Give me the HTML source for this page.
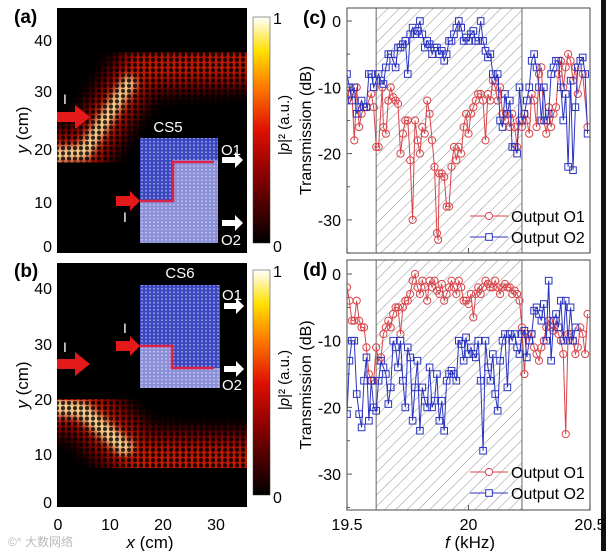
<!DOCTYPE html>
<html><head><meta charset="utf-8">
<style>
body{margin:0;background:#fff;}
svg{display:block;font-family:"Liberation Sans","Noto Sans CJK SC",sans-serif;}
</style></head>
<body>
<svg id="fig" width="606" height="551" viewBox="0 0 606 551" xmlns="http://www.w3.org/2000/svg">
<defs>
  <linearGradient id="hot" x1="0" y1="1" x2="0" y2="0">
    <stop offset="0" stop-color="#000"/>
    <stop offset="0.3" stop-color="#8a0000"/>
    <stop offset="0.5" stop-color="#e01000"/>
    <stop offset="0.7" stop-color="#ff8000"/>
    <stop offset="0.85" stop-color="#ffe000"/>
    <stop offset="1" stop-color="#fff"/>
  </linearGradient>
  <pattern id="hatch" width="8" height="8" patternUnits="userSpaceOnUse" patternTransform="rotate(45)">
    <line x1="0" y1="0" x2="0" y2="8" stroke="#777" stroke-width="0.8"/>
  </pattern>
  <pattern id="lattice" width="6" height="5.2" patternUnits="userSpaceOnUse">
    <circle cx="3" cy="2.6" r="2.1" fill="#000" opacity="0.8"/>
  </pattern>
  <pattern id="insetdots" width="4" height="3.5" patternUnits="userSpaceOnUse">
    <circle cx="2" cy="1.7" r="1" fill="#fff" opacity="0.45"/>
  </pattern>
  <filter id="blur6"><feGaussianBlur stdDeviation="7"/></filter>
  <filter id="blur3"><feGaussianBlur stdDeviation="4"/></filter>
  <clipPath id="clipA"><rect x="57" y="8" width="190" height="245"/></clipPath>
  <clipPath id="clipB"><rect x="57" y="263" width="190" height="244"/></clipPath>
  <clipPath id="clipC"><rect x="347" y="8" width="243" height="245"/></clipPath>
  <clipPath id="clipD"><rect x="347" y="260" width="243" height="250"/></clipPath>
</defs>

<rect x="601" y="0" width="5" height="551" fill="#111"/>

<!-- Panel A -->
<g>
  <rect x="57" y="8" width="190" height="245" fill="#000"/>
  <g clip-path="url(#clipA)">
    <polyline points="40,153 84,153 140,68 260,62" fill="none" stroke="#700000" stroke-width="56" filter="url(#blur6)"/>
    <polyline points="40,153 84,153 140,68 260,62" fill="none" stroke="#d02000" stroke-width="28" filter="url(#blur6)" opacity="0.8"/>
    <polyline points="50,155 84,152 132,78" fill="none" stroke="#ffe6a0" stroke-width="14" filter="url(#blur3)" opacity="0.9"/>
    <polyline points="150,58 260,58" fill="none" stroke="#ff9050" stroke-width="8" filter="url(#blur3)" opacity="0.6"/>
    <rect x="57" y="8" width="190" height="245" fill="url(#lattice)"/>
  </g>
  <polygon points="57,112 75,112 75,105 90,117 75,129 75,122 57,122" fill="#e41a1a"/>
  <text x="63" y="104" font-size="14" fill="#fff">I</text>
  <g>
    <rect x="140" y="138" width="78" height="105" fill="#8a8fd8"/>
    <rect x="140" y="138" width="78" height="22" fill="#3a46c0"/>
    <rect x="140" y="160" width="33" height="42" fill="#3a46c0"/>
    <rect x="140" y="138" width="78" height="105" fill="url(#insetdots)"/>
    <polyline points="140,201 173,201 173,162 214,162" fill="none" stroke="#d9234a" stroke-width="2.5"/>
    <text x="168" y="132" font-size="15" fill="#fff" text-anchor="middle">CS5</text>
  </g>
  <polygon points="116,196 130,196 130,191 140,201 130,211 130,206 116,206" fill="#e41a1a"/>
  <text x="123" y="222" font-size="14" fill="#fff">I</text>
  <polygon points="222,157 235,157 235,152 243,160 235,168 235,163 222,163" fill="#fff"/>
  <polygon points="222,220 235,220 235,215 243,223 235,231 235,226 222,226" fill="#fff"/>
  <text x="221" y="155" font-size="15" fill="#fff">O1</text>
  <text x="221" y="245" font-size="15" fill="#fff">O2</text>
  <text x="14" y="23" font-size="19" font-weight="bold">(a)</text>
  <g font-size="16" text-anchor="end">
    <text x="52" y="46">40</text><text x="52" y="97">30</text><text x="52" y="155">20</text>
    <text x="52" y="208">10</text><text x="52" y="252">0</text>
  </g>
  <text transform="translate(28,130) rotate(-90)" font-size="17" text-anchor="middle"><tspan font-style="italic">y</tspan> (cm)</text>
  <rect x="253" y="17" width="17" height="226" fill="url(#hot)" stroke="#333" stroke-width="0.5"/>
  <text x="273" y="24" font-size="16">1</text><text x="273" y="252" font-size="16">0</text>
  <text transform="translate(289,125) rotate(-90)" font-size="15" text-anchor="middle">|<tspan font-style="italic">p</tspan>|² (a.u.)</text>
</g>

<!-- Panel B -->
<g>
  <rect x="57" y="263" width="190" height="244" fill="#000"/>
  <g clip-path="url(#clipB)">
    <polyline points="40,405 82,405 140,460 260,462" fill="none" stroke="#700000" stroke-width="66" filter="url(#blur6)"/>
    <polyline points="40,405 82,405 140,460 260,462" fill="none" stroke="#d02000" stroke-width="34" filter="url(#blur6)" opacity="0.8"/>
    <polyline points="45,405 82,410 130,452" fill="none" stroke="#ffe6a0" stroke-width="16" filter="url(#blur3)" opacity="0.9"/>
    <polyline points="140,462 260,462" fill="none" stroke="#ffb060" stroke-width="10" filter="url(#blur3)" opacity="0.7"/>
    <rect x="57" y="263" width="190" height="244" fill="url(#lattice)"/>
  </g>
  <polygon points="57,359 75,359 75,352 90,364 75,376 75,369 57,369" fill="#e41a1a"/>
  <text x="63" y="352" font-size="14" fill="#fff">I</text>
  <g>
    <rect x="140" y="285" width="80" height="103" fill="#3a46c0"/>
    <rect x="140" y="346" width="32" height="42" fill="#8a8fd8"/>
    <rect x="172" y="368" width="48" height="20" fill="#8a8fd8"/>
    <rect x="140" y="285" width="80" height="103" fill="url(#insetdots)"/>
    <polyline points="140,346 172,346 172,368 214,368" fill="none" stroke="#d9234a" stroke-width="2.5"/>
    <text x="180" y="278" font-size="15" fill="#fff" text-anchor="middle">CS6</text>
  </g>
  <polygon points="116,341 130,341 130,336 140,346 130,356 130,351 116,351" fill="#e41a1a"/>
  <text x="123" y="333" font-size="14" fill="#fff">I</text>
  <polygon points="224,303 236,303 236,298 244,306 236,314 236,309 224,309" fill="#fff"/>
  <polygon points="224,366 236,366 236,361 244,369 236,377 236,372 224,372" fill="#fff"/>
  <text x="222" y="300" font-size="15" fill="#fff">O1</text>
  <text x="222" y="390" font-size="15" fill="#fff">O2</text>
  <text x="14" y="277" font-size="19" font-weight="bold">(b)</text>
  <g font-size="16" text-anchor="end">
    <text x="52" y="294">40</text><text x="52" y="350">30</text><text x="52" y="405">20</text>
    <text x="52" y="460">10</text><text x="52" y="508">0</text>
  </g>
  <text transform="translate(28,385) rotate(-90)" font-size="17" text-anchor="middle"><tspan font-style="italic">y</tspan> (cm)</text>
  <g font-size="16" text-anchor="middle">
    <text x="58" y="530">0</text><text x="110" y="530">10</text><text x="163" y="530">20</text><text x="216" y="530">30</text>
  </g>
  <text x="150" y="548" font-size="17" text-anchor="middle"><tspan font-style="italic">x</tspan> (cm)</text>
  <rect x="253" y="270" width="17" height="225" fill="url(#hot)" stroke="#333" stroke-width="0.5"/>
  <text x="273" y="277" font-size="16">1</text><text x="273" y="503" font-size="16">0</text>
  <text transform="translate(289,380) rotate(-90)" font-size="15" text-anchor="middle">|<tspan font-style="italic">p</tspan>|² (a.u.)</text>
  <text x="8" y="546" font-size="12" fill="#bbb">©° 大数网络</text>
</g>

<g id="charts"></g>
</svg>

<script>
// ---- Data (c) ----
const fC1 = [19.50,19.51,19.52,19.53,19.54,19.55,19.56,19.57,19.58,19.60,19.61,19.62,19.63,19.645,19.65,19.66,19.67,19.68,19.69,19.70,19.71,19.72,19.73,19.74,19.75,19.76,19.77,19.78,19.79,19.80,19.81,19.82,19.83,19.84,19.85,19.86,19.87,19.875,19.88,19.89,19.90,19.91,19.92,19.93,19.94,19.95,19.96,19.97,19.98,19.99,20.00,20.01,20.02,20.03,20.04,20.05,20.06,20.07,20.08,20.09,20.10,20.11,20.12,20.13,20.14,20.15,20.16,20.17,20.18,20.19,20.20,20.21,20.22,20.23,20.24,20.25,20.26,20.27,20.28,20.29,20.30,20.31,20.32,20.33,20.34,20.35,20.36,20.37,20.38,20.39,20.40,20.41,20.42,20.43,20.44,20.45,20.47,20.49];
const vC1 = [-12,-10,-11,-18,-10,-16,-14,-13,-13,-11,-13,-19,-19,-10,-16,-17,-12,-10,-11.5,-12,-12.5,-20,-17,-15,-15,-21,-30,-15,-18,-20,-16,-17,-12,-14,-18,-22,-32,-33,-23,-23,-23.5,-28,-28,-22,-19,-21,-19,-20,-16,-14,-17,-14,-13,-12,-11,-11,-12,-18,-11,-12,-9,-10,-12,-10,-14,-15,-14,-16,-14,-16,-19,-15,-16,-14,-15,-17,-11,-12,-16,-8,-7,-15,-17,-13,-16,-14,-13,-8,-6,-10,-7,-5,-6,-9,-7,-11,-8,-16];
const fC2 = [19.50,19.51,19.52,19.53,19.54,19.55,19.56,19.57,19.58,19.59,19.60,19.61,19.62,19.63,19.64,19.65,19.66,19.67,19.68,19.69,19.70,19.71,19.72,19.73,19.74,19.75,19.76,19.77,19.78,19.79,19.80,19.81,19.82,19.83,19.84,19.85,19.86,19.87,19.88,19.89,19.90,19.91,19.92,19.93,19.94,19.95,19.96,19.97,19.98,19.99,20.00,20.01,20.02,20.03,20.04,20.05,20.06,20.07,20.08,20.09,20.10,20.11,20.12,20.13,20.14,20.15,20.16,20.17,20.18,20.19,20.20,20.21,20.22,20.23,20.24,20.25,20.26,20.27,20.28,20.29,20.30,20.31,20.32,20.33,20.34,20.35,20.36,20.37,20.38,20.39,20.40,20.41,20.42,20.43,20.44,20.45,20.46,20.47,20.48,20.49];
const vC2 = [-8,-10,-12,-10,-14,-13,-12,-13,-13,-8,-8,-10,-9,-8,-9,-9.5,-7,-5,-5,-6,-7,-4,-4,-3.5,-3,-8,-2,-1,-2,-1.5,0,-2,-4,-3,-3.5,-5,-4,-4,-5,-4.5,-6,-5,-3,-3,-2,-1,0,-1,-3,-2.5,-3,-2,-1.5,-3,-3,0,-3,-4.5,-5.5,-5,-8,-9,-8,-15,-16,-11,-14,-12,-19,-19,-20,-10,-15,-14,-12,-10,-6,-5,-7,-10,-15,-10,-15,-14,-8,-7,-6,-6,-10,-15,-11,-22,-9,-22.5,-13,-7,-6,-5.5,-8,-17];
// ---- Data (d) ----
const fD1 = [19.50,19.51,19.52,19.53,19.54,19.55,19.56,19.57,19.58,19.59,19.60,19.61,19.62,19.63,19.64,19.65,19.66,19.67,19.68,19.69,19.70,19.71,19.72,19.73,19.74,19.75,19.76,19.77,19.78,19.79,19.80,19.81,19.82,19.83,19.84,19.85,19.86,19.87,19.88,19.89,19.90,19.91,19.92,19.93,19.94,19.95,19.96,19.97,19.98,19.99,20.00,20.01,20.02,20.03,20.04,20.05,20.06,20.07,20.08,20.09,20.10,20.11,20.12,20.13,20.14,20.15,20.16,20.17,20.18,20.19,20.20,20.21,20.22,20.23,20.24,20.25,20.26,20.27,20.28,20.29,20.30,20.31,20.32,20.33,20.34,20.35,20.36,20.37,20.38,20.39,20.40,20.41,20.42,20.43,20.44,20.45,20.46,20.47,20.48,20.49];
const vD1 = [-2,-4,-7,-7,-4,-7,-8,-8,-11,-15,-16,-16,-11,-13,-12.5,-9,-8,-7,-8,-6,-5,-5,-9,-5,-4,-4,-3,-1,0,-2,-3,-1,-2,-4,-1,-2,-1,-2.5,-3,-1.5,-4,-3,-2,-1,-2,-3,-1,-2,-4,-4,-4.5,-3,-6.5,-3,-2,-3,-2,-1,-1.5,-2,-2,-1,-2,-3,-2,-1.5,-2,-2,-3,-2.5,-3,-4,-8,-15,-9,-10,-9,-11,-12,-13,-11,-10,-8,-7,-8,-8.5,-7,-9,-10,-12,-24,-9,-9,-10,-12,-11,-8,-9,-12,-6];
const fD2 = fD1.slice(0, 95);
const vD2 = [-21,-13,-10,-10,-18,-21,-23,-16,-12.5,-22,-16,-20,-20.5,-16,-13,-14,-15,-19.5,-17,-10,-11,-14,-10,-16,-20,-11,-12.5,-22,-17,-13,-23.5,-17,-19,-20,-14,-20,-19,-15,-22,-19,-23.5,-16,-15,-14.5,-15,-16,-10,-10.5,-13,-9.5,-12,-11,-12,-12.5,-10,-16,-26.5,-10,-14,-16,-12,-18,-20.5,-13,-10,-9,-17,-9,-10,-9,-11,-12,-9,-8.5,-12.5,-10,-9,-5.5,-5,-6,-7,-4.5,-10,-1,-13,-7,-6,-8,-4,-10,-4,-10,-5,-10,-8];
const yTicks = [0,-10,-20,-30];
const xTicks = [19.5,20,20.5];
const xTickLabels = ["19.5","20","20.5"];
const hatchRange = [19.62,20.22];

const NS = "http://www.w3.org/2000/svg";
const root = document.getElementById("charts");
function mk(tag, attrs, parent) {
  const e = document.createElementNS(NS, tag);
  for (const k in attrs) e.setAttribute(k, attrs[k]);
  (parent || root).appendChild(e);
  return e;
}
function panel(p) {
  const X = f => p.x0 + (f - 19.5) / 1.0 * (p.x1 - p.x0);
  const Y = v => p.y0dB + (-v) / 10 * p.pp10;
  const g = mk("g", {});
  
  
  const hx0 = X(hatchRange[0]), hx1 = X(hatchRange[1]);
  const hr = mk("rect", {x: hx0, y: p.top, width: hx1 - hx0, height: p.bot - p.top, fill: "url(#hatch)"}, g);
  
  
  mk("line", {x1: hx0, y1: p.top, x2: hx0, y2: p.bot, stroke: "#666", "stroke-width": 1}, g);
  mk("line", {x1: hx1, y1: p.top, x2: hx1, y2: p.bot, stroke: "#666", "stroke-width": 1}, g);
  const clipG = mk("g", {"clip-path": p.clip}, g);
  function series(fs, vs, color, marker, nm) {
    const pts = fs.map((f, i) => X(f).toFixed(1) + "," + Y(vs[i]).toFixed(1)).join(" ");
    const pl = mk("polyline", {points: pts, fill: "none", stroke: color, "stroke-width": 1}, clipG);
    
    
    fs.forEach((f, i) => {
      let m;
      if (marker === "o") m = mk("circle", {cx: X(f), cy: Y(vs[i]), r: 3.6, fill: "none", stroke: color, "stroke-width": 1}, clipG);
      else m = mk("rect", {x: X(f) - 3.3, y: Y(vs[i]) - 3.3, width: 6.6, height: 6.6, fill: "none", stroke: color, "stroke-width": 1}, clipG);
      
      
    });
  }
  series(p.f1, p.v1, "#d9454a", "o", "output-o1");
  series(p.f2, p.v2, "#2a33c0", "s", "output-o2");
  mk("rect", {x: p.x0, y: p.top, width: p.x1 - p.x0, height: p.bot - p.top, fill: "none", stroke: "#666", "stroke-width": 1.2}, g);
  yTicks.forEach(t => {
    mk("line", {x1: p.x0, y1: Y(t), x2: p.x0 + 5, y2: Y(t), stroke: "#555"}, g);
    mk("line", {x1: p.x0, y1: Y(t - 5), x2: p.x0 + 3, y2: Y(t - 5), stroke: "#555"}, g);
    const tx = mk("text", {x: p.x0 - 6, y: Y(t) + 6, "font-size": 16, "text-anchor": "end"}, g);
    tx.textContent = String(t);
    
    
  });
  xTicks.forEach((t, i) => {
    mk("line", {x1: X(t), y1: p.bot, x2: X(t), y2: p.bot - 5, stroke: "#555"}, g);
    if (p.xlabels) {
      const tx = mk("text", {x: X(t), y: p.bot + 20, "font-size": 16, "text-anchor": "middle"}, g);
      tx.textContent = xTickLabels[i];
      
      
    }
  });
  const yt = mk("text", {transform: `translate(${p.x0 - 36},${(p.top + p.bot) / 2}) rotate(-90)`, "font-size": 16, "text-anchor": "middle"}, g);
  yt.textContent = "Transmission (dB)";
  
  
  const lb = mk("text", {x: 303, y: p.top + 16, "font-size": 19, "font-weight": "bold"}, g);
  lb.textContent = p.label;
  
  
  [["Output O1", "#d9454a", "o", p.leg], ["Output O2", "#2a33c0", "s", p.leg + 21]].forEach(e => {
    const lg = mk("g", {}, g);
    
    
    mk("line", {x1: 470, y1: e[3], x2: 508, y2: e[3], stroke: e[1]}, lg);
    if (e[2] === "o") mk("circle", {cx: 489, cy: e[3], r: 3.6, fill: "#fff", stroke: e[1]}, lg);
    else mk("rect", {x: 485.7, y: e[3] - 3.3, width: 6.6, height: 6.6, fill: "#fff", stroke: e[1]}, lg);
    const t = mk("text", {x: 511, y: e[3] + 6, "font-size": 16}, lg);
    t.textContent = e[0];
  });
}
panel({name: "panel-c", label: "(c)", x0: 347, x1: 590, top: 8, bot: 253, y0dB: 21, pp10: 66.3, clip: "url(#clipC)", f1: fC1, v1: vC1, f2: fC2, v2: vC2, leg: 216, xlabels: false});
panel({name: "panel-d", label: "(d)", x0: 347, x1: 590, top: 260, bot: 510, y0dB: 274, pp10: 66.7, clip: "url(#clipD)", f1: fD1, v1: vD1, f2: fD2, v2: vD2, leg: 472, xlabels: true});
const xt = mk("text", {x: 470, y: 548, "font-size": 17, "text-anchor": "middle"});
xt.innerHTML = '<tspan font-style="italic">f</tspan> (kHz)';


</script>
</body></html>
